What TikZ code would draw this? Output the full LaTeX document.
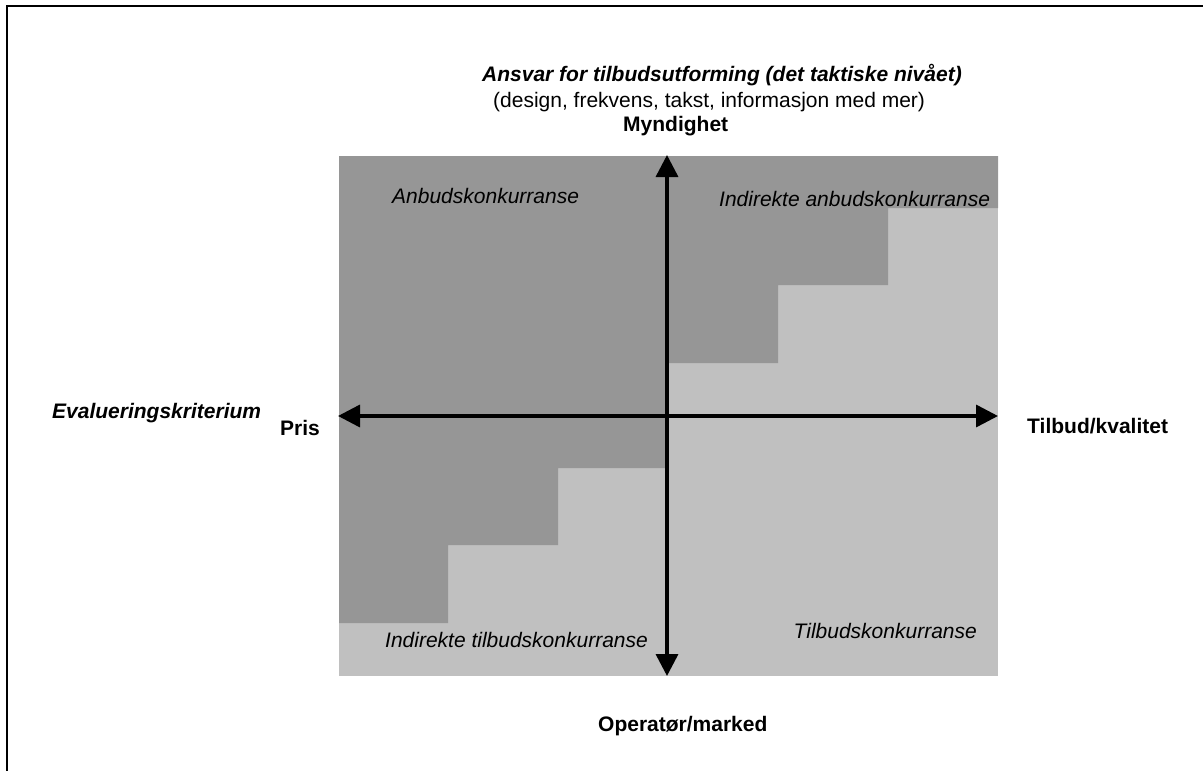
\documentclass[tikz,border=0pt]{standalone}
\usepackage{fontspec}
\setmainfont{Liberation Sans}
\usetikzlibrary{arrows.meta}
\definecolor{darkg}{HTML}{969696}
\definecolor{lightg}{HTML}{C0C0C0}
\begin{document}
\begin{tikzpicture}[x=1pt,y=-1pt,
  txt/.style={inner sep=0pt,font=\fontsize{21}{25}\selectfont},
  bi/.style={txt,font=\fontsize{21}{25}\selectfont\bfseries\itshape},
  bo/.style={txt,font=\fontsize{21}{25}\selectfont\bfseries},
  it/.style={txt,font=\fontsize{21}{25}\selectfont\itshape},
  axis/.style={line width=3.5pt,{Triangle[length=22pt,width=22pt]}-{Triangle[length=22pt,width=22pt]}},
  frame/.style={line width=2pt}]
\useasboundingbox (0,0) rectangle (1203,771);
% frame
\coordinate (fbl) at (7,771);
\coordinate (ftl) at (7,6);
\coordinate (ftr) at (1203,6);
\draw[frame] (fbl) -- (ftl) -- (ftr);
% regions
\fill[lightg] (339,156) rectangle (998,676);
\fill[darkg] (339,156) -- (667,156) -- (667,468) -- (558,468) -- (558,545) -- (448,545) -- (448,623) -- (339,623) -- cycle;
\fill[darkg] (667,156) -- (998,156) -- (998,208) -- (888,208) -- (888,285) -- (778,285) -- (778,363) -- (667,363) -- cycle;
% axes
\coordinate (top) at (667,155);
\coordinate (bot) at (667,676);
\coordinate (left) at (338,416);
\coordinate (right) at (998,416);
\draw[axis] (bot) -- (top);
\draw[axis] (left) -- (right);
% texts
\node[bi,anchor=base west] (t1) at (482,81) {Ansvar for tilbudsutforming (det taktiske nivået)};
\node[txt,anchor=base west] (t2) at (493,107) {(design, frekvens, takst, informasjon med mer)};
\node[bo,anchor=base west] (myn) at (623,131) {Myndighet};
\node[bi,anchor=base west] (eval) at (52,418) {Evalueringskriterium};
\node[bo,anchor=base west] (pris) at (280,435) {Pris};
\node[bo,anchor=base west] (tk) at (1027,433) {Tilbud/kvalitet};
\node[bo,anchor=base west] (op) at (598,731) {Operatør/marked};
\node[it,anchor=base west] (ab) at (392,203) {Anbudskonkurranse};
\node[it,anchor=base west] (iab) at (719,206) {Indirekte anbudskonkurranse};
\node[it,anchor=base west] (itb) at (385,647) {Indirekte tilbudskonkurranse};
\node[it,anchor=base east] (tb) at (977,638) {Tilbudskonkurranse};
\end{tikzpicture}
\end{document}
